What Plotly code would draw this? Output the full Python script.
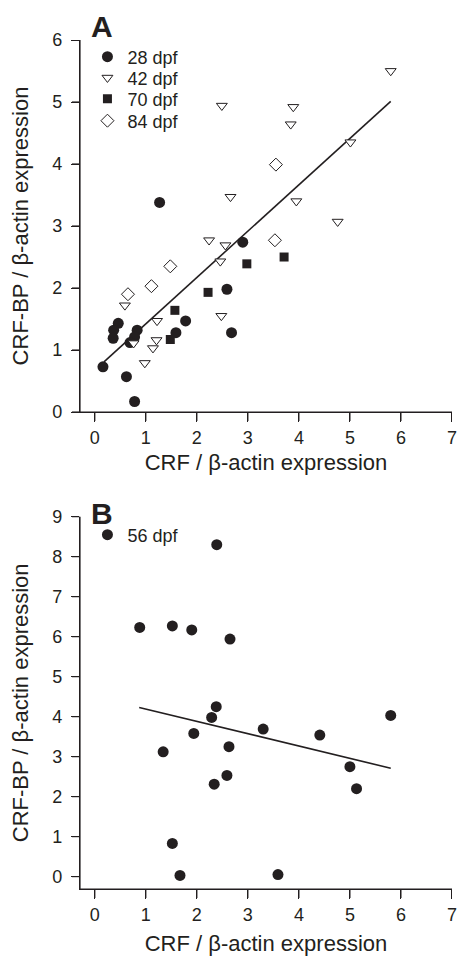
import plotly.graph_objects as go

# Panel A - CRF vs CRF-BP at 28, 42, 70, 84 dpf
x28 = [1.27, 2.90, 2.59, 1.78, 1.59, 2.68, 0.46, 0.37, 0.36, 0.83, 0.78, 0.69, 0.16, 0.62, 0.78]
y28 = [3.38, 2.74, 1.98, 1.47, 1.28, 1.28, 1.43, 1.32, 1.19, 1.32, 1.21, 1.12, 0.73, 0.57, 0.17]

x42 = [5.80, 2.49, 3.89, 3.84, 5.01, 2.66, 3.95, 4.76, 2.24, 2.56, 2.46, 0.59, 1.22, 1.21, 1.14, 0.98, 0.76, 2.48]
y42 = [5.50, 4.94, 4.92, 4.64, 4.35, 3.47, 3.40, 3.07, 2.77, 2.69, 2.43, 1.72, 1.47, 1.16, 1.03, 0.79, 1.11, 1.55]

x70 = [3.71, 2.98, 2.22, 1.57, 1.48]
y70 = [2.50, 2.39, 1.93, 1.64, 1.17]

x84 = [3.55, 3.53, 1.48, 1.11, 0.65]
y84 = [3.99, 2.77, 2.35, 2.03, 1.90]

fitA_x = [0.18, 5.80]
fitA_y = [0.81, 5.01]

# Panel B - 56 dpf
x56 = [2.39, 0.88, 1.52, 1.90, 2.65, 2.38, 2.29, 5.80, 1.94, 3.30, 4.41, 1.34, 2.63, 2.59, 2.34, 5.00, 5.13, 1.52, 1.67, 3.59]
y56 = [8.30, 6.23, 6.27, 6.17, 5.94, 4.25, 3.98, 4.03, 3.58, 3.69, 3.54, 3.12, 3.25, 2.53, 2.31, 2.75, 2.20, 0.83, 0.03, 0.05]

fitB_x = [0.87, 5.80]
fitB_y = [4.23, 2.71]

# valori delle tacche
xticks = [0, 1, 2, 3, 4, 5, 6, 7]
yticksA = [0, 1, 2, 3, 4, 5, 6]
yticksB = [0, 1, 2, 3, 4, 5, 6, 7, 8, 9]

ink = "#231f20"
font = "Liberation Sans, Arial, sans-serif"

fig = go.Figure()

# pannello A
fig.add_trace(go.Scatter(x=fitA_x, y=fitA_y, mode="lines", line=dict(color=ink, width=1.6),
                         showlegend=False, xaxis="x", yaxis="y"))
fig.add_trace(go.Scatter(x=x28, y=y28, mode="markers", name="28 dpf", legend="legend",
                         marker=dict(symbol="circle", size=11, color=ink, line=dict(width=0)),
                         xaxis="x", yaxis="y"))
fig.add_trace(go.Scatter(x=x42, y=y42, mode="markers", name="42 dpf", legend="legend2",
                         marker=dict(symbol="triangle-down", size=9.5, color="white", line=dict(color=ink, width=1)),
                         xaxis="x", yaxis="y"))
fig.add_trace(go.Scatter(x=x70, y=y70, mode="markers", name="70 dpf", legend="legend3",
                         marker=dict(symbol="square", size=9, color=ink, line=dict(width=0)),
                         xaxis="x", yaxis="y"))
fig.add_trace(go.Scatter(x=x84, y=y84, mode="markers", name="84 dpf", legend="legend4",
                         marker=dict(symbol="diamond", size=10, color="white", line=dict(color=ink, width=1)),
                         xaxis="x", yaxis="y"))

# pannello B
fig.add_trace(go.Scatter(x=fitB_x, y=fitB_y, mode="lines", line=dict(color=ink, width=1.6),
                         showlegend=False, xaxis="x2", yaxis="y2"))
fig.add_trace(go.Scatter(x=x56, y=y56, mode="markers", name="56 dpf", legend="legend5",
                         marker=dict(symbol="circle", size=11, color=ink, line=dict(width=0)),
                         xaxis="x2", yaxis="y2"))

leg = dict(bgcolor="rgba(0,0,0,0)", borderwidth=0, font=dict(size=18, color=ink),
           xanchor="left", yanchor="middle", x=0.02, itemwidth=30)


def py(p):
    # pixel row -> paper y
    return 1 - (p - 40) / 849


fig.update_layout(
    width=457, height=956,
    margin=dict(l=80, r=5, t=40, b=67),
    paper_bgcolor="white", plot_bgcolor="white",
    font=dict(family=font, color=ink),
    xaxis=dict(domain=[0, 1], anchor="y"),
    yaxis=dict(domain=[0.5618, 1], range=[0, 6], anchor="x"),
    xaxis2=dict(domain=[0, 1], anchor="y2"),
    yaxis2=dict(domain=[0, 0.4385], range=[-0.31, 9], anchor="x2"),
    legend=dict(leg, y=py(57)),
    legend2=dict(leg, y=py(78)),
    legend3=dict(leg, y=py(99)),
    legend4=dict(leg, y=py(121)),
    legend5=dict(leg, y=py(535)),
    annotations=[
        dict(text="<b>A</b>", x=0.059, y=py(26), xref="paper", yref="paper",
             xanchor="center", yanchor="middle", showarrow=False, font=dict(size=30, color=ink)),
        dict(text="<b>B</b>", x=0.059, y=py(513), xref="paper", yref="paper",
             xanchor="center", yanchor="middle", showarrow=False, font=dict(size=30, color=ink)),
    ],
)

# assi: linea, tacche, etichette
fig.update_xaxes(showline=True, linecolor=ink, linewidth=1.3, ticks="outside", tickcolor=ink,
                 tickwidth=1.3, ticklen=9, showgrid=False, zeroline=False, automargin=False,
                 layer="above traces", range=[-0.29, 7.001], tickvals=xticks,
                 tickfont=dict(size=18, color=ink),
                 title=dict(text="CRF / β-actin expression", font=dict(size=22, color=ink)))
fig.update_yaxes(showline=True, linecolor=ink, linewidth=1.3, ticks="outside", tickcolor=ink,
                 tickwidth=1.3, ticklen=8, showgrid=False, zeroline=False, automargin=False,
                 layer="above traces", ticklabelstandoff=5,
                 tickfont=dict(size=18, color=ink),
                 title=dict(text="CRF-BP / β-actin expression", standoff=17, font=dict(size=22, color=ink)))
fig.layout.yaxis.tickvals = yticksA
fig.layout.yaxis2.tickvals = yticksB
fig.layout.xaxis.title.standoff = 7
fig.layout.xaxis2.title.standoff = 14

# linee degli assi e tacche anche come shapes (nel render le linee crisp non compaiono)
tick_x = 9 / 372  # lunghezza tacca in frazione del dominio
tick_y = 8 / 372
seg = dict(type="line", line=dict(color=ink, width=1.2), layer="above")
for xa, ya, yt in [("x", "y", yticksA), ("x2", "y2", yticksB)]:
    fig.add_shape(seg, xref=f"{xa} domain", yref=f"{ya} domain", x0=0, x1=0, y0=0, y1=1)
    fig.add_shape(seg, xref=f"{xa} domain", yref=f"{ya} domain", x0=0, x1=1, y0=0, y1=0)
    for t in xticks:
        fig.add_shape(seg, xref=xa, yref=f"{ya} domain", x0=t, x1=t, y0=0, y1=-tick_x)
    for t in yt:
        fig.add_shape(seg, xref=f"{xa} domain", yref=ya, x0=0, x1=-tick_y, y0=t, y1=t)

# margine del body a zero
js = "document.body.style.margin='0';document.body.style.overflow='hidden';"
fig.write_html("out.html", config={"displayModeBar": False}, post_script=js)
